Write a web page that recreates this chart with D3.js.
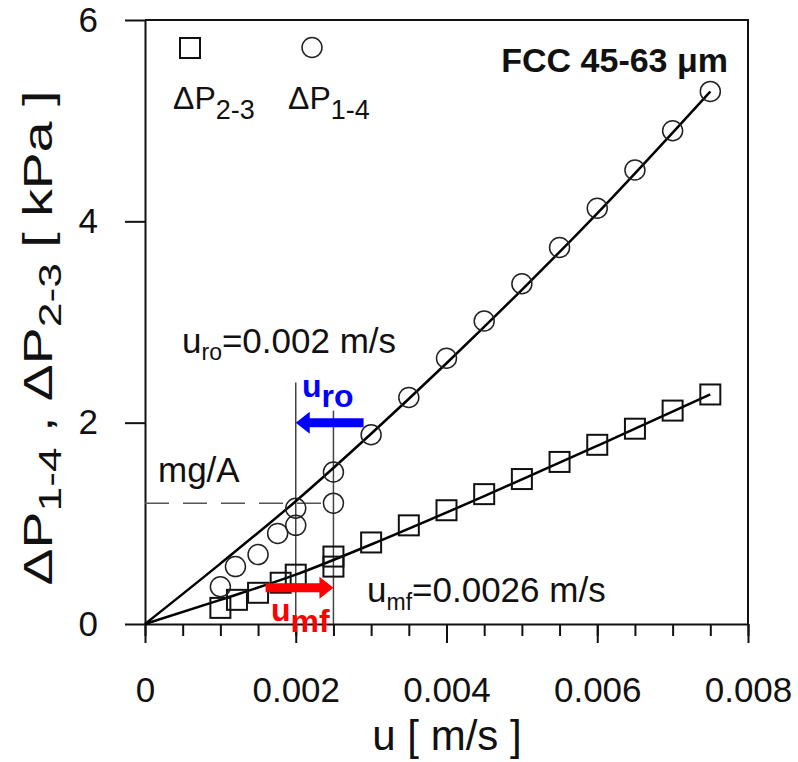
<!DOCTYPE html>
<html>
<head>
<meta charset="utf-8">
<script src="https://cdn.jsdelivr.net/npm/d3@7"></script>
<style>
  body { margin: 0; background: #fff; }
  svg text { font-family: "Liberation Sans", Arial, sans-serif; }
</style>
</head>
<body>
<svg id="chart" width="798" height="762"></svg>
<script>
// measured points, dP2-3 (squares) and dP1-4 (circles), kPa vs u in m/s
var sqU = [0.001, 0.00122, 0.0015, 0.0018, 0.002, 0.0025, 0.0025, 0.003, 0.0035, 0.004, 0.0045, 0.005, 0.0055, 0.006, 0.0065, 0.007, 0.0075];
var sqP = [0.16, 0.24, 0.31, 0.41, 0.49, 0.57, 0.67, 0.81, 0.98, 1.13, 1.29, 1.44, 1.61, 1.78, 1.94, 2.12, 2.28];
var ciU = [0.001, 0.0012, 0.0015, 0.00176, 0.002, 0.002, 0.0025, 0.0025, 0.003, 0.0035, 0.004, 0.0045, 0.005, 0.0055, 0.006, 0.0065, 0.007, 0.0075];
var ciP = [0.37, 0.57, 0.69, 0.90, 0.98, 1.15, 1.20, 1.51, 1.88, 2.25, 2.64, 3.01, 3.38, 3.74, 4.13, 4.51, 4.90, 5.29];

// fitted curves
var fitCiU = [0, 0.001, 0.002, 0.003, 0.004, 0.005, 0.006, 0.0075];
var fitCiP = [0, 0.60, 1.22, 1.89, 2.59, 3.32, 4.08, 5.29];
var fitSqU = [0, 0.001, 0.002, 0.003, 0.0045, 0.006, 0.0075];
var fitSqP = [0, 0.24, 0.49, 0.79, 1.27, 1.77, 2.28];

var xTicks = [0, 0.002, 0.004, 0.006, 0.008];
var xTickLabels = ["0", "0.002", "0.004", "0.006", "0.008"];
var xMinor = d3.range(0, 0.00801, 0.0005);
var yTicks = [0, 2, 4, 6];

var uRo = 0.002, uMf = 0.0025;   // vertical marker lines
var uRoTop = 2.40, uMfTop = 2.12;
var mgA = 1.20;                  // bed weight per area
var blueArrow = {u0: 0.0029, u1: 0.002, p: 2.0};
var redArrow = {u0: 0.0016, u1: 0.0025, p: 0.36};

var svg = d3.select("#chart");
var x = d3.scaleLinear().domain([0, 0.008]).range([145, 748]);
var y = d3.scaleLinear().domain([0, 6]).range([624, 20]);

// minor ticks
svg.append("g")
    .attr("transform", "translate(0,624)")
    .call(d3.axisBottom(x).tickValues(xMinor).tickSize(12).tickFormat(""))
    .call(function(g) { g.select(".domain").remove(); })
    .selectAll("line").attr("stroke", "#111").attr("stroke-width", 2);

var xAxis = svg.append("g")
    .attr("transform", "translate(0,624)")
    .call(d3.axisBottom(x).tickValues(xTicks).tickSize(19).tickSizeOuter(0).tickPadding(34)
      .tickFormat(function(d, i) { return xTickLabels[i]; }));
xAxis.selectAll("text").attr("font-size", 35).attr("fill", "#111")
    .style("font-family", "'Liberation Sans', Arial, sans-serif");
xAxis.selectAll("line, path").attr("stroke", "#111").attr("stroke-width", 2);

var yAxis = svg.append("g")
    .attr("transform", "translate(145,0)")
    .call(d3.axisLeft(y).tickValues(yTicks).tickSize(20).tickSizeOuter(0).tickPadding(27)
      .tickFormat(d3.format("d")));
yAxis.selectAll("text").attr("font-size", 35).attr("fill", "#111")
    .style("font-family", "'Liberation Sans', Arial, sans-serif");
yAxis.selectAll("line, path").attr("stroke", "#111").attr("stroke-width", 2);

// frame
svg.append("path")
    .attr("d", "M" + x(0) + "," + y(6) + "H" + x(0.008) + "V" + y(0))
    .attr("fill", "none").attr("stroke", "#111").attr("stroke-width", 2);

// guide lines
svg.append("line")
    .attr("x1", x(0)).attr("x2", x(uMf)).attr("y1", y(mgA)).attr("y2", y(mgA))
    .attr("stroke", "#555").attr("stroke-width", 1.5).attr("stroke-dasharray", "24,14");
[[uRo, uRoTop], [uMf, uMfTop]].forEach(function(v) {
  svg.append("line")
      .attr("x1", x(v[0])).attr("x2", x(v[0])).attr("y1", y(0)).attr("y2", y(v[1]))
      .attr("stroke", "#444").attr("stroke-width", 1.5);
});

// fits
var line = d3.line().curve(d3.curveMonotoneX)
    .x(function(d) { return x(d[0]); }).y(function(d) { return y(d[1]); });
svg.append("path").attr("d", line(d3.zip(fitCiU, fitCiP)))
    .attr("fill", "none").attr("stroke", "#000").attr("stroke-width", 2.5);
svg.append("path").attr("d", line(d3.zip(fitSqU, fitSqP)))
    .attr("fill", "none").attr("stroke", "#000").attr("stroke-width", 2.5);

// markers
svg.append("g").selectAll("rect").data(d3.zip(sqU, sqP)).enter().append("rect")
    .attr("x", function(d) { return x(d[0]) - 10; })
    .attr("y", function(d) { return y(d[1]) - 10; })
    .attr("width", 20).attr("height", 20)
    .attr("fill", "none").attr("stroke", "#111").attr("stroke-width", 2);
svg.append("g").selectAll("circle").data(d3.zip(ciU, ciP)).enter().append("circle")
    .attr("cx", function(d) { return x(d[0]); })
    .attr("cy", function(d) { return y(d[1]); })
    .attr("r", 10)
    .attr("fill", "none").attr("stroke", "#222").attr("stroke-width", 1.5);

// arrows
function arrow(a, color) {
  var x0 = x(a.u0), x1 = x(a.u1), yy = y(a.p);
  var dir = x1 > x0 ? 1 : -1;
  var hx = x1 - dir * 14;
  svg.append("path")
      .attr("d", "M" + x0 + "," + (yy - 4.5) + "L" + hx + "," + (yy - 4.5) + "L" + hx + "," + (yy - 11) +
                 "L" + x1 + "," + yy + "L" + hx + "," + (yy + 11) + "L" + hx + "," + (yy + 4.5) +
                 "L" + x0 + "," + (yy + 4.5) + "Z")
      .attr("fill", color);
}
arrow(blueArrow, "#0000ff");
arrow(redArrow, "#ff0000");

// text helper: base text with subscript and optional tail
function label(px, py, size, main, sub, subSize, subDy, tail, color, weight) {
  var t = svg.append("text").attr("x", px).attr("y", py)
      .attr("font-size", size).attr("fill", color || "#111").attr("font-weight", weight || "normal");
  t.append("tspan").text(main);
  if (sub) t.append("tspan").attr("dy", subDy).attr("font-size", subSize).text(sub);
  if (tail) t.append("tspan").attr("dy", -subDy).text(tail);
  return t;
}

// legend
svg.append("rect").attr("x", 180).attr("y", 38).attr("width", 20).attr("height", 20)
    .attr("fill", "none").attr("stroke", "#111").attr("stroke-width", 2);
svg.append("circle").attr("cx", 312).attr("cy", 47.5).attr("r", 10)
    .attr("fill", "none").attr("stroke", "#222").attr("stroke-width", 1.5);
label(173, 109, 32, "\u0394P", "2-3", 27, 10);
label(288, 109, 32, "\u0394P", "1-4", 27, 10);

svg.append("text").attr("x", 728).attr("y", 72).attr("text-anchor", "end")
    .attr("font-size", 34).attr("font-weight", "bold").attr("fill", "#111")
    .text("FCC 45-63 \u03bcm");

label(182, 353, 35, "u", "ro", 23, 7, "=0.002 m/s");
svg.append("text").attr("x", 158).attr("y", 482).attr("font-size", 35).attr("fill", "#111").text("mg/A");
label(367, 602, 35, "u", "mf", 23, 8, "=0.0026 m/s");

label(302, 397, 32, "u", "ro", 32, 10, null, "#0000ff", "bold");
label(271, 621, 32, "u", "mf", 32, 11, null, "#ff0000", "bold");

// axis titles
svg.append("text").attr("x", 447).attr("y", 750).attr("text-anchor", "middle")
    .attr("font-size", 42).attr("fill", "#111").text("u [ m/s ]");

var yl = svg.append("text")
    .attr("transform", "translate(52,338) rotate(-90)")
    .attr("text-anchor", "middle").attr("font-size", 40).attr("fill", "#111")
    .attr("textLength", 495).attr("lengthAdjust", "spacingAndGlyphs");
yl.append("tspan").text("\u0394P");
yl.append("tspan").attr("dy", 9).attr("font-size", 32).text("1-4");
yl.append("tspan").attr("dy", -9).text(" , \u0394P");
yl.append("tspan").attr("dy", 9).attr("font-size", 32).text("2-3");
yl.append("tspan").attr("dy", -9).text(" [ kPa ]");
</script>
</body>
</html>
